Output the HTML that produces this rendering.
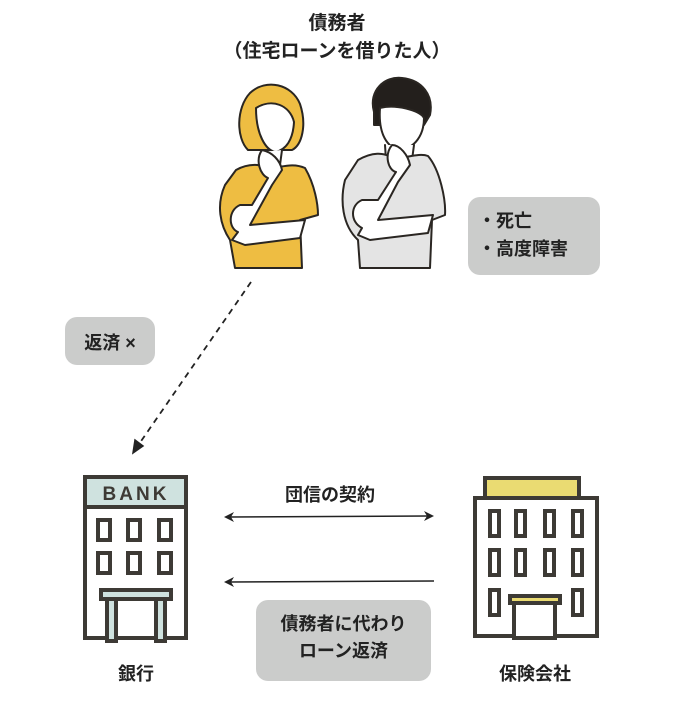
<!DOCTYPE html>
<html><head><meta charset="utf-8"><style>
html,body{margin:0;padding:0;background:#fff;}
body{width:674px;height:720px;position:relative;overflow:hidden;font-family:"Liberation Sans","Noto Sans CJK JP",sans-serif;color:#222;}
.t{position:absolute;font-weight:bold;font-size:18px;white-space:nowrap;text-align:center;}
.box{position:absolute;background:#cbcccb;border-radius:12px;}
</style></head><body>
<div class="t" style="left:0;width:674px;top:10px;line-height:28px;font-size:19px;">債務者<br>（住宅ローンを借りた人）</div>

<svg width="674" height="720" style="position:absolute;left:0;top:0" xmlns="http://www.w3.org/2000/svg">
<g stroke="#2a2622" stroke-width="2" stroke-linejoin="round" stroke-linecap="round">
 <!-- woman -->
 <path d="M248 150 C236 138 236 108 250 93 C266 78 292 84 300 104 C307 125 302 145 292 150 Z" fill="#eebd42"/>
 <path d="M256 108 C256 135 266 150 275 152 C286 150 293 140 294 122 C290 105 272 98 256 108 Z" fill="#fff"/>
 <path d="M262 152 L262 165 L280 165 L282 150" fill="#fff"/>
 <path d="M236 170 C250 162 262 165 270 168 C280 168 292 162 305 168 C315 185 318 205 318 215 L300 220 L302 268 L235 268 L230 240 C220 225 216 205 225 185 Z" fill="#eebd42"/>
 <path d="M262 150 C255 160 260 175 268 178 L252 205 L240 205 C228 210 228 228 238 232 L232 240 L245 245 L300 238 L305 220 L250 225 L272 185 L282 170 C280 160 272 152 262 150 Z" fill="#fff"/>
 <!-- man -->
 <path d="M374 112 C368 90 385 76 402 78 C422 80 434 95 430 115 L424 125 L374 125 Z" fill="#231f1c"/>
 <path d="M380 108 C378 135 388 148 400 150 C415 148 424 135 424 118 C420 110 395 104 380 108 Z" fill="#fff"/>
 <path d="M385 145 L386 160 L412 160 L414 145" fill="#fff"/>
 <path d="M358 160 C372 152 384 152 392 158 C402 160 418 152 428 156 C440 170 446 200 445 215 L432 220 L430 268 L360 268 L358 240 C342 225 340 200 345 180 Z" fill="#e4e4e4"/>
 <path d="M392 145 C384 155 388 170 396 172 L378 200 L362 200 C350 205 350 222 362 228 L358 235 L370 240 L428 233 L433 215 L378 220 L398 182 L410 165 C408 155 400 145 392 145 Z" fill="#fff"/>
</g>
<line x1="251" y1="282" x2="137" y2="447" stroke="#222" stroke-width="1.8" stroke-dasharray="6,5"/>
<path d="M133 453 L135 440 L143 446 Z" fill="#222" stroke="#222" stroke-width="1.5"/>
<line x1="230" y1="517" x2="428" y2="516" stroke="#222" stroke-width="1.5"/>
<path d="M224 517 L234 512 L231 517 L234 522 Z M434 516 L424 511 L427 516 L424 521 Z" fill="#222"/>
<line x1="230" y1="582" x2="434" y2="581" stroke="#222" stroke-width="1.5"/>
<path d="M224 582 L234 577 L231 582 L234 587 Z" fill="#222"/>
<g stroke="#3d3a35" stroke-width="4" fill="#fff">
 <rect x="85" y="477" width="101" height="161"/>
 <rect x="85" y="477" width="101" height="30" fill="#cfe2df"/>
 <rect x="98" y="520" width="12" height="20"/><rect x="128" y="520" width="12" height="20"/><rect x="159" y="520" width="12" height="20"/>
 <rect x="98" y="553" width="12" height="20"/><rect x="128" y="553" width="12" height="20"/><rect x="159" y="553" width="12" height="20"/>
 <rect x="101" y="590" width="70" height="9" fill="#cfe2df"/>
 <rect x="107" y="599" width="9" height="42" fill="#cfe2df"/><rect x="156" y="599" width="9" height="42" fill="#cfe2df"/>
</g>
<text x="136" y="500" text-anchor="middle" font-family="Liberation Sans,sans-serif" font-weight="bold" font-size="19" fill="#3d3a35" letter-spacing="3">BANK</text>
<g stroke="#3d3a35" stroke-width="4" fill="#fff">
 <rect x="485" y="478" width="94" height="20" fill="#eadb72"/>
 <rect x="475" y="498" width="122" height="138"/>
 <rect x="490" y="511" width="9" height="25"/><rect x="516" y="511" width="9" height="25"/><rect x="545" y="511" width="9" height="25"/><rect x="573" y="511" width="9" height="25"/>
 <rect x="490" y="550" width="9" height="25"/><rect x="516" y="550" width="9" height="25"/><rect x="545" y="550" width="9" height="25"/><rect x="573" y="550" width="9" height="25"/>
 <rect x="490" y="590" width="9" height="25"/><rect x="573" y="590" width="9" height="25"/>
 <rect x="514" y="603" width="41" height="35"/>
 <rect x="510" y="596" width="50" height="7" fill="#eadb72"/>
</g>
</svg>

<div class="box" style="left:468px;top:197px;width:132px;height:78px;"></div>
<div class="t" style="left:478px;top:207px;text-align:left;line-height:28px;">・死亡<br>・高度障害</div>
<div class="box" style="left:65px;top:317px;width:90px;height:48px;"></div>
<div class="t" style="left:65px;width:90px;top:329px;">返済 ×</div>
<div class="t" style="left:230px;width:200px;top:481px;">団信の契約</div>
<div class="box" style="left:256px;top:600px;width:175px;height:81px;"></div>
<div class="t" style="left:256px;width:175px;top:611px;line-height:27px;">債務者に代わり<br>ローン返済</div>
<div class="t" style="left:86px;width:100px;top:660px;">銀行</div>
<div class="t" style="left:470px;width:130px;top:660px;">保険会社</div>
</body></html>
